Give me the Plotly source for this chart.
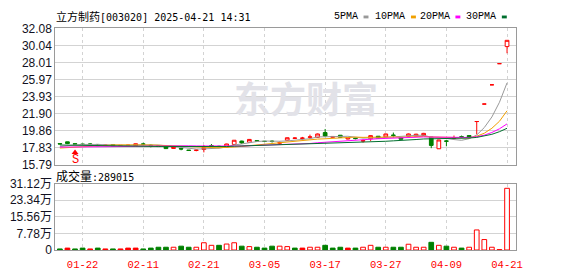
import plotly.graph_objects as go
import pandas as pd

W, H = 578, 276

# ---------------- data ----------------
dates = ["01-17", "01-20", "01-21", "01-22", "01-23", "01-24", "01-27",
         "02-05", "02-06", "02-07", "02-10", "02-11", "02-12", "02-13", "02-14",
         "02-17", "02-18", "02-19", "02-20", "02-21", "02-24", "02-25", "02-26",
         "02-27", "02-28",
         "03-03", "03-04", "03-05", "03-06", "03-07", "03-10", "03-11", "03-12",
         "03-13", "03-14", "03-17", "03-18", "03-19", "03-20", "03-21", "03-24",
         "03-25", "03-26", "03-27", "03-28", "03-31",
         "04-01", "04-02", "04-03", "04-07", "04-08", "04-09", "04-10", "04-11",
         "04-14", "04-15", "04-16", "04-17", "04-18", "04-21"]

opens = [18.30, 18.51, 18.28, 18.24, 18.26, 18.20, 18.08, 18.18, 18.06, 18.08,
         18.05, 18.26, 18.10, 18.05, 17.92, 17.72, 17.72, 17.52, 17.48, 17.60,
         18.05, 17.98, 17.88, 18.20, 18.60, 18.47, 18.65, 18.58, 18.60, 18.35,
         18.70, 18.93, 18.92, 19.05, 19.05, 19.62, 19.05, 19.30, 18.85, 18.95,
         18.60, 18.88, 19.18, 19.10, 19.32, 19.00, 19.18, 19.20, 19.28, 19.08,
         17.68, 18.62, 18.95, 19.12, 19.26, 20.94, 23.03, 25.33, 27.86, 29.90]
highs = [18.35, 18.52, 18.30, 18.26, 18.35, 18.22, 18.15, 18.20, 18.12, 18.15,
         18.30, 18.40, 18.20, 18.08, 17.95, 17.92, 17.80, 17.53, 17.60, 18.12,
         18.25, 18.05, 18.28, 18.72, 18.65, 18.85, 18.72, 18.62, 18.70, 18.55,
         19.02, 19.05, 19.10, 19.37, 19.50, 20.05, 19.20, 19.32, 19.04, 19.00,
         18.80, 19.28, 19.20, 19.48, 19.62, 19.05, 19.50, 19.48, 19.58, 19.10,
         18.75, 18.75, 19.26, 19.26, 19.30, 20.94, 23.03, 25.33, 27.86, 30.65]
lows = [18.22, 18.24, 18.20, 18.15, 18.13, 18.00, 18.05, 18.02, 18.02, 18.05,
        18.04, 18.08, 17.85, 17.90, 17.65, 17.68, 17.50, 17.46, 17.38, 17.25,
        17.86, 17.88, 17.86, 18.15, 18.25, 18.45, 18.50, 18.50, 18.42, 18.18,
        18.65, 18.85, 18.75, 18.85, 19.00, 19.10, 19.00, 19.00, 18.80, 18.80,
        18.42, 18.62, 18.90, 19.05, 19.02, 18.80, 19.15, 19.15, 19.25, 17.75,
        17.65, 17.98, 18.82, 18.96, 18.95, 19.40, 23.03, 25.33, 27.86, 29.10]
closes = [18.26, 18.30, 18.24, 18.20, 18.21, 18.05, 18.12, 18.04, 18.08, 18.10,
          18.28, 18.22, 18.05, 17.95, 17.70, 17.88, 17.65, 17.48, 17.52, 17.82,
          18.00, 17.94, 18.25, 18.70, 18.38, 18.80, 18.60, 18.55, 18.55, 18.40,
          19.00, 18.96, 18.96, 19.10, 19.45, 19.20, 19.15, 19.05, 19.02, 18.90,
          18.65, 19.25, 18.95, 19.45, 19.28, 18.82, 19.45, 19.42, 19.52, 18.08,
          18.73, 18.58, 19.00, 19.08, 19.04, 20.94, 23.03, 25.33, 27.86, 30.65]
# closes of the 29 sessions before the first visible one (estimated, for the MAs)
earlier_closes = [18.9, 18.8, 18.7, 18.8, 18.6, 18.5, 18.6, 18.5, 18.4, 18.5,
                  18.3, 18.2, 18.1, 18.0, 17.9, 18.0, 17.9, 17.8, 17.9, 17.8,
                  17.7, 17.6, 17.5, 17.6, 17.6, 17.7, 17.8, 17.9, 18.0]

volumes = [5000, 9000, 5000, 9000, 5000, 9000, 5000, 5000, 5000, 9000,
           9000, 5000, 9000, 13000, 13000, 13000, 18000, 13000, 13000, 34000,
           22000, 22000, 28000, 34000, 18000, 16000, 13000, 9000, 18000, 18000,
           16000, 9000, 9000, 13000, 13000, 22000, 9000, 13000, 9000, 9000,
           13000, 22000, 13000, 13000, 13000, 13000, 27000, 13000, 13000, 36000,
           22000, 18000, 13000, 9000, 13000, 94000, 49000, 13000, 2000, 289015]
# volume bar style: r = red hollow, R = red filled, g = green filled
vol_style = ["g", "R", "g", "g", "R", "g", "R", "g", "R", "R",
             "R", "g", "g", "g", "g", "r", "g", "g", "r", "r",
             "r", "g", "r", "r", "g", "r", "g", "g", "g", "r",
             "r", "g", "R", "r", "r", "g", "g", "g", "R", "g",
             "r", "r", "g", "r", "g", "g", "r", "r", "r", "g",
             "r", "g", "r", "g", "r", "r", "r", "r", "r", "r"]

ma_periods = [5, 10, 20, 30]
ma_names = ["5PMA", "10PMA", "20PMA", "30PMA"]
ma_colors = ["#999999", "#f0a000", "#ff00ff", "#006f2e"]

price_ticks = [15.79, 17.83, 19.86, 21.90, 23.93, 25.97, 28.01, 30.04, 32.08]
price_ticktext = ["15.79", "17.83", "19.86", "21.90", "23.93", "25.97", "28.01", "30.04", "32.08"]
vol_ticks = [0, 77800, 155600, 233400, 311200]
vol_ticktext = ["0", "7.78万", "15.56万", "23.34万", "31.12万"]
date_ticks = ["01-22", "02-11", "02-21", "03-05", "03-17", "03-27", "04-09", "04-21"]

signal_dates = ["01-21"]
signal_text = ["S"]

title_text = "立方制药[003020] 2025-04-21 14:31"
vol_label = "成交量:289015"
watermark = "东方财富"

# ---------------- figure ----------------
RED = "#ff0000"
GREEN = "#008000"
GRID = "#d3d3d3"
FRAME = "#9a9a9a"

all_closes = pd.Series(earlier_closes + closes)
n_prev = len(earlier_closes)

fig = go.Figure()

fig.add_trace(go.Candlestick(
    x=dates, open=opens, high=highs, low=lows, close=closes,
    increasing=dict(line=dict(color=RED, width=1), fillcolor="#ffffff"),
    decreasing=dict(line=dict(color=GREEN, width=1), fillcolor=GREEN),
    whiskerwidth=0, xaxis="x", yaxis="y", showlegend=False, hoverinfo="skip"))

for p, name, col in zip(ma_periods, ma_names, ma_colors):
    ma = all_closes.rolling(p).mean().iloc[n_prev:].tolist()
    fig.add_trace(go.Scatter(x=dates, y=ma, mode="lines", name=name,
                             line=dict(color=col, width=1), xaxis="x", yaxis="y",
                             showlegend=False, hoverinfo="skip"))

fill_map = {"r": "#ffffff", "R": RED, "g": GREEN}
line_map = {"r": RED, "R": RED, "g": GREEN}
fig.add_trace(go.Bar(
    x=dates, y=volumes, width=0.62,
    marker=dict(color=[fill_map[s] for s in vol_style],
                line=dict(color=[line_map[s] for s in vol_style], width=1)),
    xaxis="x2", yaxis="y2", showlegend=False, hoverinfo="skip"))

# buy/sell signal
sig_y = [15.79 + 1.45 for _ in signal_dates]
fig.add_trace(go.Scatter(x=signal_dates, y=sig_y, mode="markers",
                         marker=dict(symbol="triangle-up", size=6, color=RED),
                         xaxis="x", yaxis="y", showlegend=False, hoverinfo="skip"))
for d, t in zip(signal_dates, signal_text):
    fig.add_annotation(x=d, y=15.79 + 0.55, xref="x", yref="y", text=t, showarrow=False,
                       font=dict(family="Liberation Mono", size=12, color=RED))

x0, x1 = 56 / W, 522 / W
axis_common = dict(domain=[x0, x1], type="category", range=[-0.6, 60.14],
                   tickmode="array", tickvals=date_ticks, showgrid=True,
                   gridcolor=GRID, griddash="3px,3px", gridwidth=1,
                   showline=True, mirror=True, linecolor=FRAME, linewidth=1,
                   zeroline=False, fixedrange=True)

fig.update_layout(
    width=W, height=H, margin=dict(l=0, r=0, t=0, b=0),
    paper_bgcolor="#ffffff", plot_bgcolor="#ffffff",
    xaxis=dict(**axis_common, anchor="y", showticklabels=False,
               rangeslider=dict(visible=False)),
    xaxis2=dict(**axis_common, anchor="y2", matches="x", showticklabels=True,
                ticktext=date_ticks, ticklabelstandoff=4,
                tickfont=dict(family="Liberation Mono", size=10.5, color=RED)),
    yaxis=dict(domain=[1 - 166 / H, 1 - 22.5 / H], range=[15.79, 32.08],
               tickmode="array", tickvals=price_ticks, ticktext=price_ticktext,
               showgrid=True, gridcolor=GRID, gridwidth=1, zeroline=False,
               showline=True, mirror=True, linecolor=FRAME, linewidth=1,
               tickfont=dict(family="Liberation Sans", size=12, color="#111122"),
               ticks="", fixedrange=True),
    yaxis2=dict(domain=[1 - 256 / H, 1 - 186 / H], range=[0, 311200],
                tickmode="array", tickvals=vol_ticks, ticktext=vol_ticktext,
                showgrid=True, gridcolor=GRID, gridwidth=1, zeroline=False,
                showline=True, mirror=True, linecolor=FRAME, linewidth=1,
                tickfont=dict(family="Liberation Sans, Noto Sans CJK SC", size=12,
                              color="#111122"),
                ticks="", fixedrange=True),
    bargap=0.3,
)

# watermark
fig.add_annotation(x=310 / W, y=1 - 95 / H, xref="paper", yref="paper",
                   text=watermark, showarrow=False,
                   font=dict(family="Noto Sans CJK SC", size=36, color="#e2e2e8",
                             weight=700))

# title & volume label
fig.add_annotation(x=55 / W, y=1 - 10 / H, xref="paper", yref="paper",
                   xanchor="left", yanchor="middle", showarrow=False,
                   text="<span style='font-family:Noto Sans CJK SC;font-size:11px'>立方制药</span>"
                        + title_text[4:],
                   font=dict(family="DejaVu Sans Mono", size=10, color="#000000"))
fig.add_annotation(x=55 / W, y=1 - 178 / H, xref="paper", yref="paper",
                   xanchor="left", yanchor="middle", showarrow=False,
                   text="<span style='font-family:Noto Sans CJK SC;font-size:12px'>成交量</span>"
                        + vol_label[3:],
                   font=dict(family="DejaVu Sans Mono", size=10, color="#000000"))

# MA legend
leg_x = [338, 380, 425, 472]
for lx, name, col in zip(leg_x, ma_names, ma_colors):
    fig.add_annotation(x=(lx - 2) / W, y=1 - 10 / H, xref="paper", yref="paper",
                       xanchor="left", yanchor="middle", showarrow=False, text=name,
                       font=dict(family="Liberation Mono", size=10, color="#000000"))
    tx = lx + 6.0 * len(name) + 6
    fig.add_shape(type="rect", xref="paper", yref="paper",
                  x0=tx / W, x1=(tx + 5) / W, y0=1 - 12 / H, y1=1 - 9 / H,
                  fillcolor=col, line=dict(width=0))

fig.write_html("out.html")
